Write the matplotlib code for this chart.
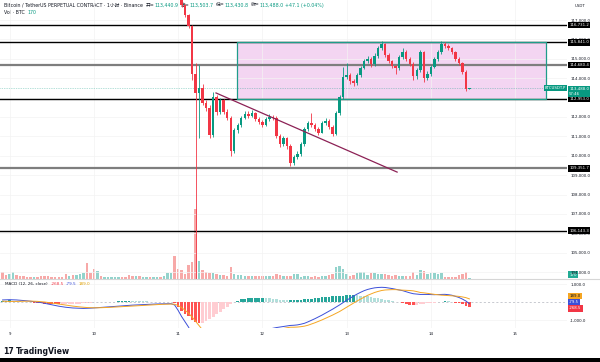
import numpy as np
import matplotlib
matplotlib.use('Agg')
import matplotlib.pyplot as plt
from matplotlib.patches import Rectangle
from matplotlib.lines import Line2D
from matplotlib.ticker import FuncFormatter

plt.rcParams['font.family'] = ['DejaVu Sans', 'Noto Sans CJK SC']

W, H = 600, 362

# hourly bars, hour 0 = day 9, 00:00
first_hour = -2
vol = [2680, 1600, 2000, 2800, 1600, 1200, 1000, 800, 600, 600, 800, 1000,
       1200, 1000, 800, 800, 600, 800, 2000, 1200, 1400, 1600, 2000, 2400,
       6280, 2400, 4000, 3200, 1200, 800, 600, 600, 600, 600, 600, 800,
       1600, 1200, 1000, 1000, 800, 800, 800, 600, 600, 800, 1200, 2400,
       2400, 9200, 4000, 3600, 2000, 5600, 6800, 28000, 7200, 3600, 2800, 2400,
       2400, 2000, 1600, 1600, 1200, 4800, 2000, 1600, 1400, 1200, 1200, 1000,
       1200, 1000, 1200, 1000, 1200, 1200, 2000, 1600, 1200, 1200, 1000, 2000,
       2000, 800, 1200, 1000, 800, 1000, 800, 1200, 1000, 1600, 2000, 4800,
       5200, 4000, 2000, 1200, 1600, 2400, 2800, 2800, 1600, 2400, 2400, 2000,
       2000, 2000, 1600, 1200, 1600, 1200, 1200, 1200, 1200, 2800, 1600, 3600,
       3200, 2000, 2400, 2400, 2000, 2400, 800, 800, 800, 800, 1600, 2000,
       2800, 170]
# direction of the bars whose candles sit above the visible price range
early_dir = ("dduuddddd" "u" "ddddddddd" "u" "d" "uuu" "ddd" "u" "d" "uuuuu"
             "dddd" "u" "d" "uu" "d" "uu" "d" "uuu" "dd")

candle_start = 49
first_open = 118300
closes = [117750, 117250, 116700, 114200, 113260, 113520, 112740, 112470, 111050, 113050,
          112260, 112890, 112260, 111950, 110260, 111320, 111580, 111950, 112160, 112050,
          112200, 111900, 111750, 111600, 111900, 112000, 111950, 111000, 110600, 110900,
          110500, 109650, 109950, 110100, 110600, 111400, 111700, 111600, 111400, 111200,
          111700, 111800, 111500, 111100, 112200, 113050, 114050, 114150, 113850, 113750,
          114150, 114550, 114900, 115000, 114750, 115150, 115550, 115750, 115200, 114900,
          114650, 114500, 115100, 115350, 115000, 114750, 114100, 114400, 115350, 114000,
          114200, 114600, 115000, 115350, 115750, 115650, 115550, 115350, 115000, 114800,
          114300, 113440.9, 113488.0]
highs = [118400, 117800, 117300, 116750, 114800, 114700, 113700, 112900, 112600, 113300,
         113150, 113000, 112950, 112400, 112050, 111450, 111700, 112050, 112300, 112300,
         112350, 112250, 112000, 111850, 112000, 112150, 112100, 112050, 111100, 111000,
         110950, 110600, 110050, 110250, 110700, 111500, 111800, 112200, 111700, 111500,
         111800, 111950, 111900, 111600, 112300, 113150, 114600, 114800, 114250, 113950,
         114250, 114650, 115000, 115150, 115100, 115300, 115650, 115900, 115800, 115300,
         114950, 114700, 115200, 115550, 115450, 115100, 114850, 114500, 115450, 115400,
         114350, 114700, 115100, 115450, 115900, 115850, 115750, 115600, 115400, 115100,
         114850, 114400, 113503.7]
lows = [117650, 117150, 116600, 113900, 102000, 110900, 112600, 112300, 110900, 110950,
        112100, 112150, 112150, 111850, 110000, 110150, 111200, 111500, 111900, 111950,
        112000, 111800, 111650, 111500, 111550, 111800, 111850, 110900, 110450, 110500,
        110350, 109450, 109500, 109850, 110000, 110500, 111300, 111500, 111300, 111050,
        111150, 111600, 111400, 111000, 111050, 112100, 112950, 113950, 113700, 113600,
        113650, 114050, 114450, 114800, 114600, 114650, 115050, 115450, 115100, 114800,
        114500, 114200, 114400, 115000, 114900, 114650, 113900, 113950, 114300, 113800,
        113900, 114100, 114500, 114900, 115250, 115550, 115450, 115250, 114900, 114700,
        114200, 113350, 113430.8]

macd = [130, 140, 145, 140, 130, 115, 100, 80, 60, 35, 10, -20,
        -60, -100, -140, -180, -220, -250, -280, -300, -320, -330, -340, -345,
        -340, -330, -320, -305, -290, -275, -260, -245, -230, -215, -200, -185,
        -170, -160, -150, -140, -130, -120, -110, -100, -95, -90, -85, -80,
        -80, -150, -450, -800, -1100, -1400, -1800, -2200, -2500, -2700, -2850, -2950,
        -3000, -3020, -3000, -2950, -2880, -2800, -2700, -2580, -2450, -2320, -2190, -2060,
        -1930, -1810, -1700, -1600, -1520, -1460, -1420, -1390, -1360, -1330, -1300, -1290,
        -1270, -1230, -1180, -1100, -1010, -920, -820, -720, -610, -500, -390, -270,
        -150, -20, 110, 230, 350, 460, 560, 650, 720, 770, 810, 830,
        840, 830, 800, 770, 730, 690, 650, 590, 530, 480, 460, 440,
        440, 440, 430, 425, 430, 440, 445, 425, 395, 330, 270, 180,
        70, -79.5]
signal = [60, 50, 45, 45, 50, 55, 60, 65, 65, 60, 50, 35,
          15, -10, -40, -70, -100, -130, -160, -190, -215, -240, -260, -280,
          -295, -305, -310, -310, -305, -300, -290, -280, -270, -260, -248, -236,
          -224, -212, -200, -188, -176, -164, -152, -140, -130, -120, -112, -105,
          -100, -110, -180, -300, -450, -620, -830, -1070, -1320, -1560, -1790, -2000,
          -2180, -2340, -2470, -2570, -2640, -2690, -2700, -2660, -2610, -2530, -2430, -2310,
          -2190, -2070, -1960, -1850, -1750, -1660, -1580, -1520, -1470, -1430, -1400, -1400,
          -1390, -1370, -1340, -1290, -1220, -1150, -1070, -990, -900, -810, -720, -620,
          -520, -400, -280, -160, -40, 75, 180, 290, 390, 470, 550, 610,
          660, 690, 700, 710, 710, 690, 680, 670, 660, 640, 600, 550,
          530, 500, 470, 445, 420, 400, 385, 375, 365, 350, 330, 300,
          260, 189.0]

levels = [116731.2, 115841.0, 114680.4, 112953.0, 109351.7, 106143.3]
level_kind = ['black', 'black', 'gray', 'black', 'gray', 'black']
box_lo, box_hi = 112953.0, 115841.0
box_t0, box_t1 = 64.8, 152.8
trend_t = [58.8, 110.4]
trend_p = [113240, 109160]
day_ticks = [0, 24, 48, 72, 96, 120, 144]
day_labels = ['9', '10', '11', '12', '13', '14', '15']
price_ticks = list(range(104000, 118000, 1000))

UP, DN = '#089981', '#f23645'
VUP, VDN = '#93d3cc', '#f7a9a8'
DARK = '#131722'
BLUE, ORANGE = '#3b4fd8', '#f5a623'
FS = 2.8


def fy(px):
    return 1 - px / H


fig = plt.figure(figsize=(6, 3.62), dpi=100)
fig.patch.set_facecolor('white')

ax = fig.add_axes([0, fy(278.5), 567 / W, 278.5 / H])
vax = ax.twinx()
ax.set_zorder(vax.get_zorder() + 1)
ax.patch.set_visible(False)
vax.patch.set_visible(False)

closes = np.array(closes, float)
opens = np.r_[first_open, closes[:-1]]
t_c = np.arange(candle_start, candle_start + len(closes))
up = closes >= opens
ccol = np.where(up, UP, DN)

# volume overlay
t_all = np.arange(first_hour, first_hour + len(vol))
dirs = list(early_dir) + ['u' if u else 'd' for u in up]
vax.bar(t_all, vol, width=0.7, color=[VUP if d == 'u' else VDN for d in dirs], lw=0)
vax.set_ylim(0, max(vol) * 278.5 / 70)
vax.set_yticks([])

# candles
ax.vlines(t_c, lows, highs, colors=ccol, lw=0.6, zorder=3)
ax.bar(t_c, np.maximum(np.abs(closes - opens), 20), bottom=np.minimum(opens, closes),
       width=0.7, color=ccol, lw=0, zorder=3.1)

ax.set_xlim(-2.735, 158.8)
ax.set_ylim(103675, 118031)
ax.set_xticks(day_ticks)
ax.set_yticks(price_ticks)
ax.grid(True, color='#f3f3f3', lw=0.5, zorder=0)
ax.yaxis.tick_right()
ax.yaxis.set_major_formatter(FuncFormatter(lambda v, p: f'{v:,.1f}'))
ax.tick_params(axis='y', length=0, pad=2.2, labelsize=FS, labelcolor=DARK)
ax.tick_params(axis='x', length=0, labelbottom=False)
for a in (ax, vax):
    for s in a.spines.values():
        s.set_visible(False)

# rectangle zone
ax.add_patch(Rectangle((box_t0, box_lo), box_t1 - box_t0, box_hi - box_lo,
                       fc='#f3d5f2', ec='none', zorder=1))
for lv, kind in zip(levels, level_kind):
    ax.axhline(lv, color='black' if kind == 'black' else '#7e7e7e',
               lw=1.0 if kind == 'black' else 1.6, zorder=2)
    ax.annotate(f'{lv:,.1f}', xy=(1, lv), xycoords=('axes fraction', 'data'),
                xytext=(1.6, 0), textcoords='offset points', ha='left', va='center',
                fontsize=FS, color='white', annotation_clip=False, zorder=6,
                bbox=dict(boxstyle='square,pad=0.3', fc='black', ec='none'))
ax.add_patch(Rectangle((box_t0, box_lo), box_t1 - box_t0, box_hi - box_lo,
                       fill=False, ec='#1f9d8b', lw=0.9, zorder=2.5))
ax.plot(trend_t, trend_p, color='#8c2155', lw=0.9, zorder=4)

last = closes[-1]
ax.axhline(last, color=UP, lw=0.5, ls=(0, (1, 1.5)), alpha=0.6, zorder=2)
ax.annotate(f'{last:,.1f}\n57:46', xy=(1, last), xycoords=('axes fraction', 'data'),
            xytext=(1.6, -2.2), textcoords='offset points', ha='left', va='center',
            fontsize=FS, color='white', annotation_clip=False, zorder=7, linespacing=1.3,
            bbox=dict(boxstyle='square,pad=0.3', fc=UP, ec='none'))
ax.annotate('BTCUSDT.P', xy=(1, last), xycoords=('axes fraction', 'data'),
            xytext=(-0.5, 0), textcoords='offset points', ha='right', va='center',
            fontsize=FS, color='white', annotation_clip=False, zorder=7,
            bbox=dict(boxstyle='square,pad=0.3', fc=UP, ec='none'))
vax.annotate(f'{vol[-1]}', xy=(1, vol[-1]), xycoords=('axes fraction', 'data'),
             xytext=(1.6, 2.5), textcoords='offset points', ha='left', va='center',
             fontsize=FS, color='white', annotation_clip=False, zorder=7,
             bbox=dict(boxstyle='square,pad=0.3', fc='#22ab94', ec='none'))
fig.text(575 / W, fy(6), 'USDT', fontsize=FS, color=DARK, va='center')

# MACD pane
mx = fig.add_axes([0, fy(328), 567 / W, (328 - 279.5) / H], sharex=ax)
macd = np.array(macd, float)
signal = np.array(signal, float)
hist = macd - signal
prev = np.r_[hist[0], hist[:-1]]
hcol = np.where(hist >= 0, np.where(hist >= prev, '#26a69a', '#b2dfdb'),
                np.where(hist < prev, '#ff5252', '#ffcdd2'))
mx.bar(t_all, hist, width=0.75, color=hcol, lw=0, zorder=2)
mx.plot(t_all, macd, color=BLUE, lw=0.7, zorder=3)
mx.plot(t_all, signal, color=ORANGE, lw=0.7, zorder=3)
mx.axhline(0, color='#b2b5be', lw=0.5, ls=(0, (3, 3)), zorder=1)
mx.set_ylim(-1444, 1278)
mx.set_yticks([-1000, 1000])
mx.yaxis.tick_right()
mx.yaxis.set_major_formatter(FuncFormatter(lambda v, p: f'{v:,.1f}'))
mx.grid(True, color='#f3f3f3', lw=0.5, zorder=0)
mx.set_axisbelow(True)
mx.tick_params(axis='y', length=0, pad=2.2, labelsize=FS, labelcolor=DARK)
mx.set_xticks(day_ticks, day_labels)
mx.tick_params(axis='x', length=0, pad=3, labelsize=FS, labelcolor=DARK)
for s in mx.spines.values():
    s.set_visible(False)
for val, col, tc, dy in [(signal[-1], ORANGE, DARK, 2.0), (macd[-1], BLUE, 'white', 1.0),
                         (hist[-1], '#f23645', 'white', -1.0)]:
    mx.annotate(f'{val:,.1f}', xy=(1, val), xycoords=('axes fraction', 'data'),
                xytext=(1.6, dy), textcoords='offset points', ha='left', va='center',
                fontsize=FS, color=tc, annotation_clip=False, zorder=7,
                bbox=dict(boxstyle='square,pad=0.3', fc=col, ec='none'))

fig.add_artist(Line2D([0, 1], [fy(279), fy(279)], color='#d6d6d6', lw=0.8))

# legend rows
rend = fig.canvas.get_renderer()


def text_row(x, y, pieces, size):
    for s, c, gap in pieces:
        t = ax.text(x / W, fy(y), s, transform=fig.transFigure, fontsize=size, color=c,
                    va='center', ha='left', zorder=0.5, clip_on=False)
        x += t.get_window_extent(rend).width + gap


chg = closes[-1] - closes[-2]
text_row(4, 5, [('Bitcoin / TetherUS PERPETUAL CONTRACT · 1小时 · Binance', DARK, 3),
                ('开=', DARK, 0), (f'{opens[-1]:,.1f}', UP, 2),
                ('高=', DARK, 0), (f'{highs[-1]:,.1f}', UP, 2),
                ('低=', DARK, 0), (f'{lows[-1]:,.1f}', UP, 2),
                ('收=', DARK, 0), (f'{closes[-1]:,.1f}', UP, 2),
                (f'+{chg:.1f} (+{chg / closes[-2] * 100:.2f}%)', UP, 0)], 3.4)
text_row(4, 13, [('Vol · BTC', DARK, 3), (f'{vol[-1]}', UP, 0)], 3.4)
text_row(5, 284, [('MACD (12, 26, close)', DARK, 3), (f'{hist[-1]:,.1f}', '#f23645', 2),
                  (f'{macd[-1]:,.1f}', BLUE, 2), (f'{signal[-1]:,.1f}', '#e0a000', 0)], 3.0)

fig.text(3 / W, fy(351), '17', fontsize=5.6, weight='bold', color=DARK, va='center')
fig.text(16 / W, fy(351), 'TradingView', fontsize=5.6, weight='semibold', color=DARK, va='center')
fig.add_artist(Rectangle((0, 0), 1, 4 / H, transform=fig.transFigure, fc='black', ec='none'))

fig.savefig('out.png', dpi=100)
